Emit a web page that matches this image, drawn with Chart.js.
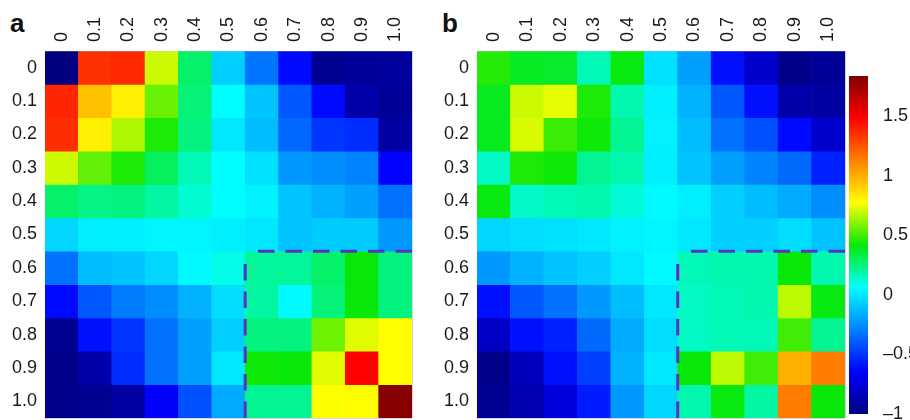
<!DOCTYPE html>
<html>
<head>
<meta charset="utf-8">
<script src="https://cdn.jsdelivr.net/npm/chart.js@4.4.1/dist/chart.umd.min.js"></script>
<style>
  body { margin: 0; background: #fff; width: 910px; height: 420px; position: relative; overflow: hidden; font-family: "Liberation Sans", Arial, sans-serif; }
  canvas { position: absolute; top: 0; }
  .tag { position: absolute; font-weight: bold; font-size: 26px; line-height: 26px; color: #111; }
</style>
</head>
<body>
<div class="tag" style="left:10px; top:10px;">a</div>
<div class="tag" style="left:442px; top:10px;">b</div>
<canvas id="heatA" width="420" height="420" style="left:0px;"></canvas>
<canvas id="heatB" width="420" height="420" style="left:432px;"></canvas>
<canvas id="colorBar" width="65" height="420" style="left:845px;"></canvas>
<script>
const rowLabels = ['0', '0.1', '0.2', '0.3', '0.4', '0.5', '0.6', '0.7', '0.8', '0.9', '1.0'];
const colLabels = ['0', '0.1', '0.2', '0.3', '0.4', '0.5', '0.6', '0.7', '0.8', '0.9', '1.0'];

// panel a
const valuesA = [
  [-1.0, 1.35, 1.37, 0.70, 0.28, -0.07, -0.32, -0.62, -0.95, -0.93, -0.92],
  [1.38, 0.95, 0.82, 0.56, 0.26, 0.06, -0.10, -0.40, -0.62, -0.88, -0.93],
  [1.36, 0.82, 0.66, 0.45, 0.25, 0.00, -0.12, -0.36, -0.50, -0.52, -0.90],
  [0.70, 0.55, 0.45, 0.30, 0.17, 0.06, -0.02, -0.22, -0.25, -0.28, -0.64],
  [0.28, 0.24, 0.25, 0.20, 0.13, 0.06, 0.03, -0.10, -0.15, -0.20, -0.33],
  [-0.05, 0.02, 0.02, 0.04, 0.04, 0.02, 0.00, -0.10, -0.08, -0.08, -0.22],
  [-0.33, -0.12, -0.10, -0.05, 0.05, 0.10, 0.21, 0.21, 0.28, 0.42, 0.25],
  [-0.62, -0.40, -0.30, -0.25, -0.15, -0.03, 0.20, 0.05, 0.26, 0.42, 0.25],
  [-0.95, -0.60, -0.50, -0.33, -0.20, -0.07, 0.25, 0.25, 0.57, 0.73, 0.78],
  [-0.97, -0.88, -0.52, -0.33, -0.20, 0.00, 0.43, 0.42, 0.73, 1.48, 0.78],
  [-0.97, -0.95, -0.90, -0.66, -0.42, -0.17, 0.22, 0.22, 0.77, 0.78, 1.82]
];

// panel b
const valuesB = [
  [0.46, 0.38, 0.37, 0.17, 0.41, -0.02, -0.20, -0.60, -0.78, -0.97, -0.93],
  [0.39, 0.70, 0.74, 0.45, 0.18, 0.02, -0.15, -0.40, -0.60, -0.88, -0.90],
  [0.39, 0.72, 0.49, 0.43, 0.22, 0.03, -0.12, -0.33, -0.42, -0.62, -0.78],
  [0.15, 0.45, 0.43, 0.22, 0.18, 0.02, -0.10, -0.20, -0.28, -0.35, -0.55],
  [0.41, 0.14, 0.17, 0.18, 0.12, 0.05, 0.02, -0.07, -0.12, -0.17, -0.25],
  [-0.05, -0.03, -0.02, 0.00, 0.03, 0.04, 0.00, -0.07, -0.07, -0.03, -0.10],
  [-0.22, -0.15, -0.10, -0.07, 0.00, 0.05, 0.17, 0.18, 0.18, 0.42, 0.18],
  [-0.60, -0.40, -0.33, -0.22, -0.12, 0.00, 0.15, 0.17, 0.18, 0.68, 0.41],
  [-0.80, -0.60, -0.55, -0.35, -0.17, -0.03, 0.15, 0.17, 0.17, 0.50, 0.22],
  [-0.97, -0.83, -0.60, -0.47, -0.15, 0.00, 0.42, 0.68, 0.50, 1.00, 1.14],
  [-0.95, -0.86, -0.74, -0.57, -0.22, -0.05, 0.18, 0.41, 0.20, 1.14, 0.42]
];

// colour scale (jet-like)
const colorMin = -1;
const colorMax = 1.84;
const colorStops = ['#00007f', '#0000ff', '#0080ff', '#00ffff', '#08e808', '#ffff00', '#ff8000', '#ff0000', '#7f0000'];
const colorTicks = [-1, -0.5, 0, 0.5, 1, 1.5];
const colorTickLabels = ['–1', '–0.5', '0', '0.5', '1', '1.5'];

// dashed region starts at this row / column
const boxFrom = colLabels.indexOf('0.6');

const tickFont = { family: '"Liberation Sans", Arial, sans-serif', size: 18 };
const tickColor = '#1a1a1a';
const gridColor = 'rgba(205, 205, 230, 0.9)';

function hexToRgb(h) {
  return [parseInt(h.slice(1, 3), 16), parseInt(h.slice(3, 5), 16), parseInt(h.slice(5, 7), 16)];
}

function toColor(v) {
  let t = (v - colorMin) / (colorMax - colorMin);
  t = Math.min(1, Math.max(0, t)) * (colorStops.length - 1);
  const k = Math.min(Math.floor(t), colorStops.length - 2);
  const f = t - k;
  const a = hexToRgb(colorStops[k]);
  const b = hexToRgb(colorStops[k + 1]);
  const c = a.map((x, i) => Math.round(x + (b[i] - x) * f));
  return 'rgb(' + c.join(',') + ')';
}

const dashedBox = {
  id: 'dashedBox',
  afterDraw(chart) {
    const { ctx, chartArea, scales: { x, y } } = chart;
    const left = (x.getPixelForValue(boxFrom - 1) + x.getPixelForValue(boxFrom)) / 2;
    const top = y.getPixelForValue(boxFrom);
    ctx.save();
    ctx.strokeStyle = '#5b30c4';
    ctx.lineWidth = 3;
    ctx.setLineDash([16.5, 11]);
    ctx.beginPath();
    ctx.moveTo(chartArea.right, top);
    ctx.lineTo(left + 11, top);
    ctx.stroke();
    ctx.beginPath();
    ctx.moveTo(left, chartArea.bottom);
    ctx.lineTo(left, top + 11);
    ctx.stroke();
    ctx.restore();
  }
};

function heatmap(id, values, padRight) {
  return new Chart(document.getElementById(id), {
    type: 'bar',
    data: {
      labels: colLabels,
      datasets: rowLabels.map((r, i) => ({
        label: r,
        data: colLabels.map(() => 1),
        backgroundColor: values[i].map(toColor),
        borderWidth: 0,
        barPercentage: 1,
        categoryPercentage: 1
      }))
    },
    options: {
      responsive: false,
      animation: false,
      layout: { padding: { top: 0, right: padRight, bottom: 2, left: 0 } },
      plugins: { legend: { display: false }, tooltip: { enabled: false } },
      scales: {
        x: {
          position: 'top',
          stacked: true,
          z: 1,
          grid: { offset: true, color: gridColor, drawTicks: false },
          border: { display: false },
          ticks: { font: tickFont, color: tickColor, padding: 9, labelOffset: 21.6, minRotation: 90, maxRotation: 90, autoSkip: false },
          afterFit: s => { s.height = 51; s.paddingLeft = 0; s.paddingRight = 0; }
        },
        y: {
          stacked: true,
          reverse: true,
          min: 0,
          max: rowLabels.length,
          z: 1,
          grid: { color: gridColor, drawTicks: false },
          border: { display: false },
          ticks: {
            stepSize: 1,
            autoSkip: false,
            font: tickFont,
            color: tickColor,
            padding: 8,
            labelOffset: 16.7,
            callback: v => rowLabels[v] ?? ''
          },
          afterFit: s => { s.width = 45; s.paddingTop = 0; s.paddingBottom = 0; }
        }
      }
    },
    plugins: [dashedBox]
  });
}

const chartA = heatmap('heatA', valuesA, 8);
const chartB = heatmap('heatB', valuesB, 7);

function barGradient(context) {
  const chart = context.chart;
  if (!chart.chartArea) return colorStops[0];
  const y = chart.scales.y;
  const g = chart.ctx.createLinearGradient(0, y.getPixelForValue(colorMin), 0, y.getPixelForValue(colorMax));
  colorStops.forEach((c, k) => g.addColorStop(k / (colorStops.length - 1), c));
  return g;
}

// labels are clipped to the axis box, so the axis takes the rest of the canvas
const colorBar = new Chart(document.getElementById('colorBar'), {
  type: 'bar',
  data: {
    labels: [''],
    datasets: [{
      data: [[colorMin, colorMax]],
      backgroundColor: barGradient,
      borderWidth: 0,
      barPercentage: 1,
      categoryPercentage: 1
    }]
  },
  options: {
    responsive: false,
    animation: false,
    layout: { padding: { top: 76, right: 0, bottom: 6, left: 4 } },
    plugins: { legend: { display: false }, tooltip: { enabled: false } },
    scales: {
      x: { display: false },
      y: {
        position: 'right',
        min: colorMin,
        max: colorMax,
        grid: { display: false },
        border: { display: false },
        afterBuildTicks: s => { s.ticks = colorTicks.map(v => ({ value: v })); },
        ticks: { font: tickFont, color: tickColor, padding: 7, callback: (v, i) => colorTickLabels[i] },
        afterFit: s => { s.width = 42; s.paddingTop = 0; s.paddingBottom = 0; }
      }
    }
  }
});
</script>
</body>
</html>
